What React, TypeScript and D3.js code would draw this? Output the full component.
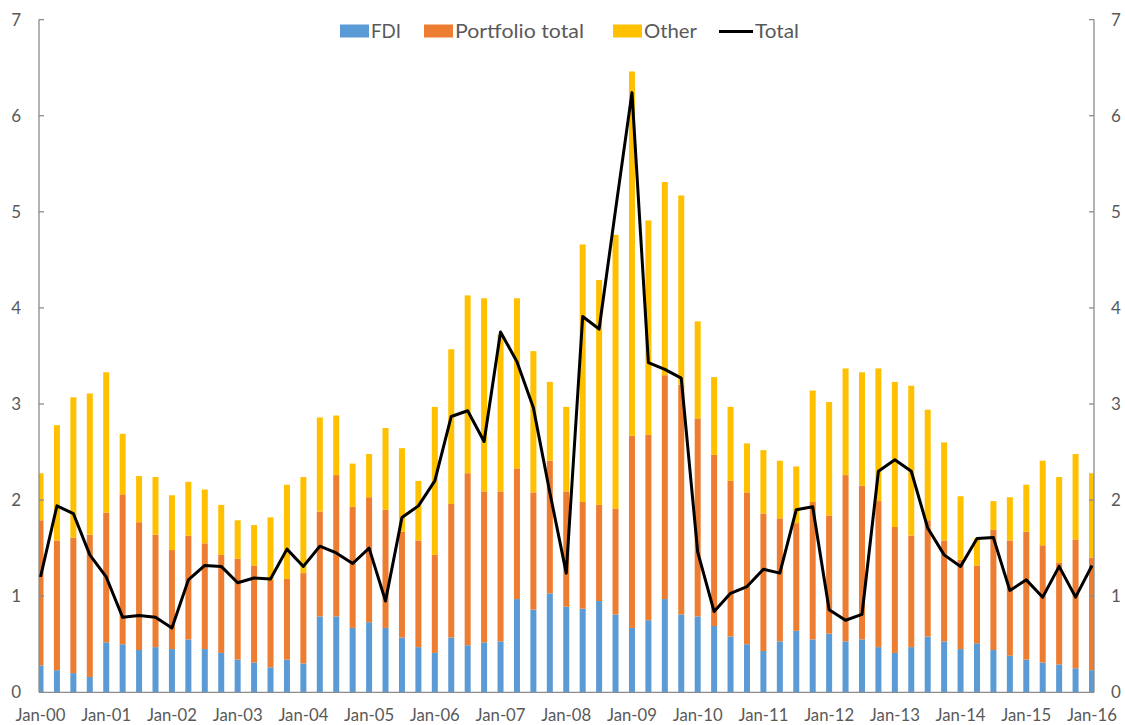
import React, { useEffect } from "react";
import * as d3 from "d3";

const categories = [
  "Jan-00","Apr-00","Jul-00","Oct-00","Jan-01","Apr-01","Jul-01","Oct-01",
  "Jan-02","Apr-02","Jul-02","Oct-02","Jan-03","Apr-03","Jul-03","Oct-03",
  "Jan-04","Apr-04","Jul-04","Oct-04","Jan-05","Apr-05","Jul-05","Oct-05",
  "Jan-06","Apr-06","Jul-06","Oct-06","Jan-07","Apr-07","Jul-07","Oct-07",
  "Jan-08","Apr-08","Jul-08","Oct-08","Jan-09","Apr-09","Jul-09","Oct-09",
  "Jan-10","Apr-10","Jul-10","Oct-10","Jan-11","Apr-11","Jul-11","Oct-11",
  "Jan-12","Apr-12","Jul-12","Oct-12","Jan-13","Apr-13","Jul-13","Oct-13",
  "Jan-14","Apr-14","Jul-14","Oct-14","Jan-15","Apr-15","Jul-15","Oct-15",
  "Jan-16",
];

const fdi = [
  0.28,0.23,0.20,0.16,0.52,0.50,0.44,0.47,0.45,0.55,0.45,0.41,0.34,0.31,0.26,0.34,
  0.30,0.79,0.79,0.67,0.73,0.67,0.57,0.47,0.41,0.57,0.49,0.52,0.53,0.97,0.86,1.03,
  0.89,0.87,0.95,0.81,0.67,0.75,0.97,0.81,0.79,0.69,0.58,0.50,0.43,0.53,0.64,0.55,
  0.61,0.53,0.55,0.47,0.41,0.47,0.58,0.53,0.45,0.51,0.44,0.38,0.34,0.31,0.29,0.25,
  0.23,
];

const portfolio = [
  1.51,1.35,1.41,1.48,1.35,1.56,1.33,1.17,1.03,1.08,1.10,1.02,1.05,1.01,0.91,0.84,
  0.94,1.09,1.47,1.26,1.30,1.23,1.10,1.11,1.02,1.39,1.79,1.57,1.56,1.36,1.22,1.38,
  1.20,1.11,1.00,1.10,2.00,1.93,2.33,2.39,2.06,1.78,1.62,1.58,1.43,1.28,1.12,1.43,
  1.23,1.73,1.60,1.52,1.31,1.16,1.21,1.05,0.93,0.81,1.25,1.20,1.33,1.22,1.06,1.34,
  1.17,
];

const other = [
  0.49,1.20,1.46,1.47,1.46,0.63,0.48,0.60,0.57,0.56,0.56,0.52,0.40,0.42,0.65,0.98,
  1.00,0.98,0.62,0.45,0.45,0.85,0.87,0.62,1.54,1.61,1.85,2.01,1.63,1.77,1.47,0.82,
  0.88,2.68,2.34,2.85,3.79,2.23,2.01,1.97,1.01,0.81,0.77,0.51,0.66,0.60,0.59,1.16,
  1.18,1.11,1.18,1.38,1.51,1.56,1.15,1.02,0.66,0.28,0.30,0.45,0.49,0.88,0.89,0.89,
  0.88,
];

const total = [
  1.20,1.94,1.86,1.43,1.20,0.78,0.80,0.78,0.67,1.17,1.32,1.31,1.14,1.19,1.18,1.49,
  1.31,1.52,1.45,1.34,1.50,0.95,1.82,1.94,2.20,2.87,2.93,2.61,3.75,3.44,2.96,2.08,
  1.24,3.91,3.78,5.02,6.24,3.43,3.36,3.27,1.46,0.84,1.03,1.10,1.28,1.24,1.90,1.93,
  0.86,0.75,0.81,2.30,2.42,2.30,1.71,1.43,1.31,1.60,1.61,1.06,1.17,0.99,1.31,0.99,
  1.32,
];

const yTicks = [0, 1, 2, 3, 4, 5, 6, 7];
const seriesNames = ["FDI", "Portfolio total", "Other"];
const seriesColors = ["#5B9BD5", "#ED7D31", "#FFC000"];
const totalName = "Total";

const W = 1125;
const H = 725;
const plotLeft = 39;
const plotRight = 1094;
const FONT = "Lato, 'Open Sans', sans-serif";
const TEXT = "#595959";
const AXIS = "#8c8c8c";

export default function App() {
  useEffect(() => {
    document.body.style.margin = "0";
  }, []);

  const x = d3
    .scalePoint<string>()
    .domain(categories)
    .range([40.5, 1092]);
  const y = d3.scaleLinear().domain([0, 7]).range([692.3, 19.6]);
  const barW = 6;

  const rows = categories.map((c, i) => ({
    cat: c,
    FDI: fdi[i],
    "Portfolio total": portfolio[i],
    Other: other[i],
  }));
  const stacked = d3.stack<any>().keys(seriesNames)(rows);

  const line = d3
    .line<number>()
    .x((_, i) => x(categories[i]) as number)
    .y((d) => y(d));

  const labelCats = categories.filter((_, i) => i % 4 === 0);

  const legendItems = [
    { name: seriesNames[0], color: seriesColors[0], x: 340, type: "rect", w: 30 },
    { name: seriesNames[1], color: seriesColors[1], x: 424, type: "rect", w: 129 },
    { name: seriesNames[2], color: seriesColors[2], x: 613, type: "rect", w: 53 },
    { name: totalName, color: "#000", x: 719, type: "line", w: 44 },
  ];

  return (
    <div style={{ position: "absolute", left: 0, top: 0 }}>
      <svg width={W} height={H} style={{ display: "block", background: "#fff" }}>
        <defs>
          <clipPath id="plotclip">
            <rect x={plotLeft} y={0} width={plotRight - plotLeft} height={y(0)} />
          </clipPath>
        </defs>
        <g clipPath="url(#plotclip)">
          {stacked.map((s, si) => (
            <g key={s.key} fill={seriesColors[si]}>
              {s.map((d, i) => (
                <rect
                  key={i}
                  x={(x(categories[i]) as number) - barW / 2}
                  y={y(d[1])}
                  width={barW}
                  height={Math.max(0, y(d[0]) - y(d[1]))}
                />
              ))}
            </g>
          ))}
        </g>
        <line x1={plotLeft} x2={plotRight} y1={y(0)} y2={y(0)} stroke={AXIS} strokeWidth={1.3} />
        <line x1={plotLeft} x2={plotLeft} y1={y(7)} y2={y(0)} stroke={AXIS} strokeWidth={1.3} />
        <line x1={plotRight} x2={plotRight} y1={y(7)} y2={y(0)} stroke={AXIS} strokeWidth={1.3} />
        {yTicks.map((t) => (
          <g key={t}>
            <line x1={plotLeft} x2={plotLeft + 5} y1={y(t)} y2={y(t)} stroke={AXIS} strokeWidth={1.3} />
            <line x1={plotRight - 5} x2={plotRight} y1={y(t)} y2={y(t)} stroke={AXIS} strokeWidth={1.3} />
            <text x={21} y={y(t)} dy="0.35em" textAnchor="end" fontFamily={FONT} fontSize={17} fill={TEXT}>
              {t}
            </text>
            <text x={1111} y={y(t)} dy="0.35em" textAnchor="start" fontFamily={FONT} fontSize={17} fill={TEXT}>
              {t}
            </text>
          </g>
        ))}
        {labelCats.map((c) => (
          <text
            key={c}
            x={x(c) as number}
            y={721}
            textAnchor="middle"
            fontFamily={FONT}
            fontSize={17}
            textLength={50}
            lengthAdjust="spacingAndGlyphs"
            fill={TEXT}
          >
            {c}
          </text>
        ))}
        <path d={line(total) || ""} fill="none" stroke="#000" strokeWidth={3} strokeLinejoin="round" />
        {legendItems.map((it) => (
          <g key={it.name}>
            {it.type === "rect" ? (
              <rect x={it.x} y={24.5} width={29} height={13} fill={it.color} />
            ) : (
              <line x1={it.x} x2={it.x + 34} y1={31.5} y2={31.5} stroke={it.color} strokeWidth={3} />
            )}
            <text
              x={it.x + (it.type === "rect" ? 31 : 36)}
              y={38}
              fontFamily={FONT}
              fontSize={20}
              textLength={it.w}
              lengthAdjust="spacingAndGlyphs"
              fill={TEXT}
            >
              {it.name}
            </text>
          </g>
        ))}
      </svg>
    </div>
  );
}
